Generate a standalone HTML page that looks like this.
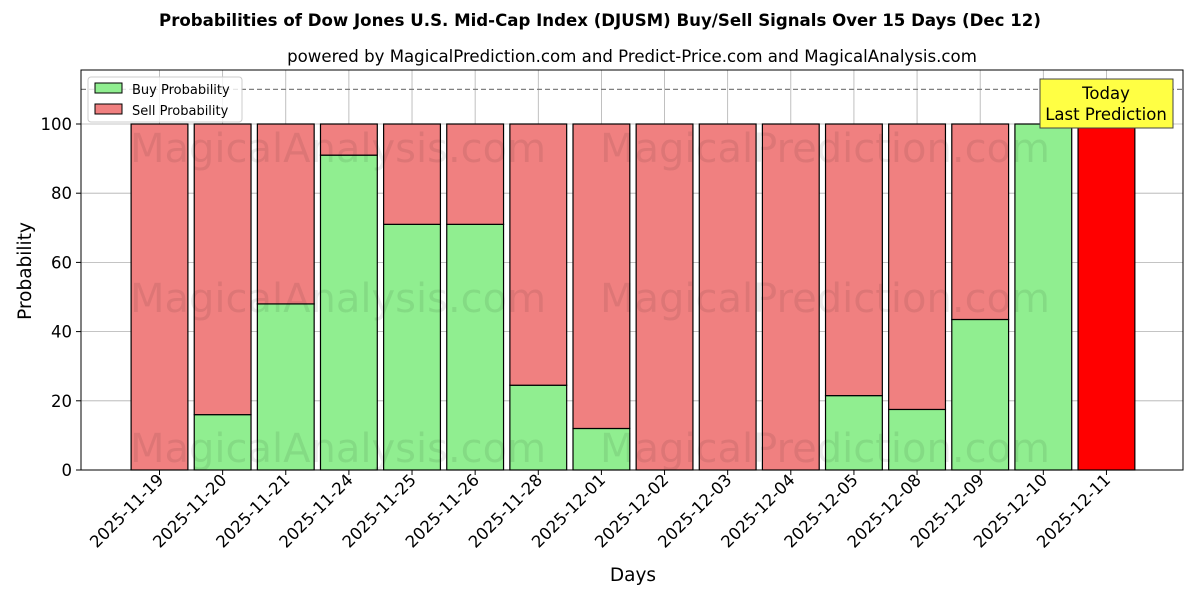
<!DOCTYPE html>
<html><head><meta charset="utf-8"><style>body{margin:0;background:#fff}svg{display:block}text{font-family:"DejaVu Sans","Liberation Sans",sans-serif}</style></head>
<body>
<svg id="s" width="1200" height="600" xmlns="http://www.w3.org/2000/svg">
<text x="600" y="26" text-anchor="middle" font-size="16.6" font-weight="bold">Probabilities of Dow Jones U.S. Mid-Cap Index (DJUSM) Buy/Sell Signals Over 15 Days (Dec 12)</text>
<text x="632" y="62" text-anchor="middle" font-size="16.6">powered by MagicalPrediction.com and Predict-Price.com and MagicalAnalysis.com</text>
<g id="grid" stroke="#b0b0b0" stroke-width="0.8"></g>
<g id="bars" stroke="#000" stroke-width="1.2"></g>
<g fill="#000" fill-opacity="0.08" font-size="40" stroke="none">
<text x="130" y="162">MagicalAnalysis.com</text><text x="600" y="162">MagicalPrediction.com</text>
<text x="130" y="312">MagicalAnalysis.com</text><text x="600" y="312">MagicalPrediction.com</text>
<text x="130" y="462">MagicalAnalysis.com</text><text x="600" y="462">MagicalPrediction.com</text>
</g>
<line x1="81" y1="89.4" x2="1183" y2="89.4" stroke="#808080" stroke-width="1.2" stroke-dasharray="5,3"/>
<rect x="81" y="70" width="1102" height="400" fill="none" stroke="#000" stroke-width="1"/>
<g id="ticks" font-size="16.5"></g>
<text x="31" y="271" font-size="18.5" text-anchor="middle" transform="rotate(-90 31 271)">Probability</text>
<text x="633" y="581" font-size="18.5" text-anchor="middle">Days</text>
<rect x="88" y="77" width="154" height="45" fill="#fff" fill-opacity="0.8" stroke="#ccc" rx="3"/>
<rect x="95" y="83" width="27" height="10" fill="#90ee90" stroke="#000"/>
<text x="132" y="94" font-size="13">Buy Probability</text>
<rect x="95" y="104" width="27" height="10" fill="#f08080" stroke="#000"/>
<text x="132" y="115" font-size="13">Sell Probability</text>
<rect x="1040" y="79" width="133" height="49" fill="#ffff44" stroke="#444"/>
<text x="1106" y="99" font-size="16.5" text-anchor="middle">Today</text>
<text x="1106" y="120" font-size="16.5" text-anchor="middle">Last Prediction</text>
</svg>
<script>
var buy=[0,16,48,91,71,71,24.5,12,0,0,0,21.5,17.5,43.5,100,0];
var d=["2025-11-19","2025-11-20","2025-11-21","2025-11-24","2025-11-25","2025-11-26","2025-11-28","2025-12-01","2025-12-02","2025-12-03","2025-12-04","2025-12-05","2025-12-08","2025-12-09","2025-12-10","2025-12-11"];
var ns="http://www.w3.org/2000/svg";
function el(p,t,a,txt){var e=document.createElementNS(ns,t);for(var k in a)e.setAttribute(k,a[k]);if(txt!=null)e.textContent=txt;p.appendChild(e);return e;}
var g=document.getElementById("grid"),b=document.getElementById("bars"),tk=document.getElementById("ticks");
function Y(v){return 470-v*3.46;}
for(var v=0;v<=100;v+=20){el(g,"line",{x1:81,x2:1183,y1:Y(v),y2:Y(v)});el(tk,"line",{x1:76,x2:81,y1:Y(v),y2:Y(v),stroke:"#000"});el(tk,"text",{x:72,y:Y(v)+6,"text-anchor":"end"},v);}
for(var i=0;i<16;i++){var c=159.5+63.13*i;el(g,"line",{x1:c,x2:c,y1:70,y2:470});
var x=c-28.4,w=56.8;
if(i==15){el(b,"rect",{x:x,y:Y(100),width:w,height:346,fill:"#ff0000"});}
else{ if(buy[i]>0)el(b,"rect",{x:x,y:Y(buy[i]),width:w,height:buy[i]*3.46,fill:"#90ee90"});
 if(buy[i]<100)el(b,"rect",{x:x,y:Y(100),width:w,height:(100-buy[i])*3.46,fill:"#f08080"});}
el(tk,"line",{x1:c,x2:c,y1:470,y2:475,stroke:"#000"});
el(tk,"text",{x:c+5,y:481,"text-anchor":"end",transform:"rotate(-45 "+(c+5)+" 481)"},d[i]);}
</script>
</body></html>
